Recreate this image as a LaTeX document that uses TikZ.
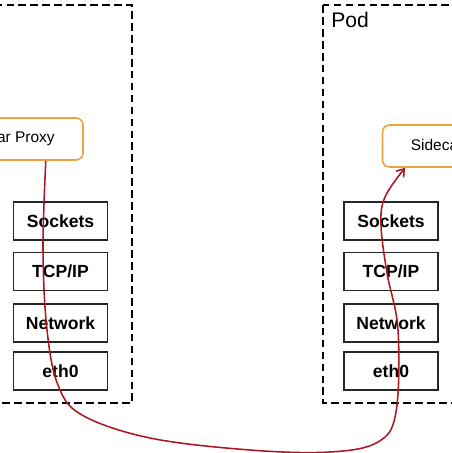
\documentclass[tikz,border=0pt]{standalone}
\usepackage{fontspec}
\setmainfont{Liberation Sans}
\usetikzlibrary{arrows.meta}
\definecolor{proxyorange}{RGB}{238,162,62}
\definecolor{flowred}{RGB}{172,22,34}
\tikzset{
    pod/.style={draw=black, line width=1.4pt, dash pattern=on 5.5pt off 3pt},
    proxy/.style={draw=proxyorange, line width=1.1pt, rounded corners=5pt, fill=white,
        minimum width=3.825cm, minimum height=1.05cm, font=\fontsize{11}{13}\selectfont},
    layer/.style={draw=black!85, line width=0.8pt, minimum width=2.35cm, minimum height=0.95cm,
        font=\bfseries\fontsize{12.5}{14}\selectfont},
    flow/.style={draw=flowred, line width=1.1pt, -{Straight Barb[length=5pt,width=7pt]}}
}
\begin{document}
\begin{tikzpicture}[x=0.025cm, y=-0.025cm]
            \useasboundingbox (0,0) rectangle (452,453);
            \clip (0,0) rectangle (452,453);

            % pods
            \draw[pod] (-30,5) rectangle (132,403);
            \draw[pod] (323,5) rectangle (490,403);
            \node[anchor=west, font=\fontsize{15}{18}\selectfont, inner sep=0pt] (podR) at (331,20) {Pod};

            \coordinate (proxyLp) at (6.5,139);
            \coordinate (proxyRp) at (459,146);

            \node[proxy] (proxyL) at (proxyLp) {Sidecar Proxy};
            \node[proxy] (proxyR) at (proxyRp) {Sidecar Proxy};

            % network stacks
            \foreach \side/\x in {L/60.5, R/391} {
                \node[layer] (sock\side) at (\x,221) {Sockets};
                \node[layer] (tcp\side) at (\x,271.5) {TCP/IP};
                \node[layer] (net\side) at (\x,323) {Network};
                \node[layer] (eth\side) at (\x,371) {eth0};
            }

            \draw[flow] plot[smooth, tension=0.6] coordinates {(proxyL.-29) (43,250) (47,330) (58,385) (82,415)
                (150,438) (250,450) (330,452) (378,442) (396,412) (398,330) (387,273) (381,225) (385,197) (proxyR.-158)};

        \end{tikzpicture}
\end{document}
